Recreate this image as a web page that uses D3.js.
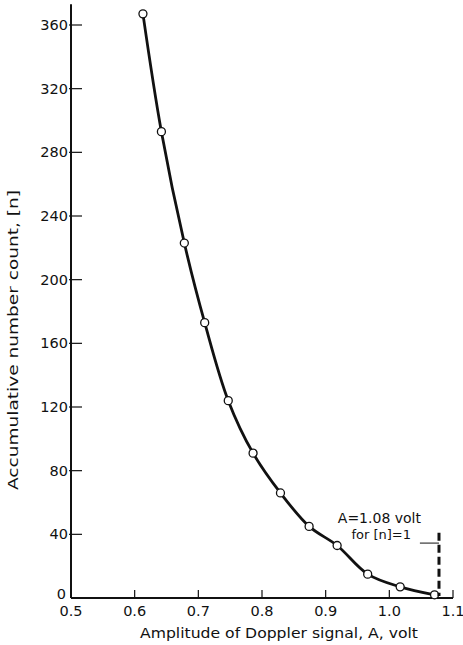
<!DOCTYPE html>
<html>
<head>
<meta charset="utf-8">
<script src="https://cdn.jsdelivr.net/npm/d3@7"></script>
<style>
  body { margin: 0; background: #fff; }
  svg text { font-family: "DejaVu Sans", sans-serif; fill: #111; }
</style>
</head>
<body>
<div id="chart"></div>
<script>
// Data
const amplitude = [0.613, 0.642, 0.678, 0.710, 0.747, 0.786, 0.829, 0.874, 0.918, 0.966, 1.017, 1.071];
const count     = [367, 293, 223, 173, 124, 91, 66, 45, 33, 15, 7, 2];
const xTicks = [0.5, 0.6, 0.7, 0.8, 0.9, 1.0, 1.1];
const xTickLabels = ['0.5', '0.6', '0.7', '0.8', '0.9', '1.0', '1.1'];
const yTicks = [0, 40, 80, 120, 160, 200, 240, 280, 320, 360];
// annotation: A at [n]=1
const markA = [1.078];
const markTop = [41];
const leaderFrom = [1.048];
const leaderAt = [34.5];

const width = 463, height = 645;

const svg = d3.select('#chart')
    .append('svg')
    .attr('width', width)
    .attr('height', height);

const x = d3.scaleLinear().domain([0.5, 1.1]).range([71, 453]);
const y = d3.scaleLinear().domain([0, 360]).range([598, 25]);

// Axes lines
svg.append('line')
    .attr('x1', x(0.5)).attr('x2', x(0.5))
    .attr('y1', y(0)).attr('y2', y(373))
    .attr('stroke', '#111').attr('stroke-width', 2);

svg.append('line')
    .attr('x1', x(0.5)).attr('x2', x(1.1))
    .attr('y1', y(0)).attr('y2', y(0))
    .attr('stroke', '#111').attr('stroke-width', 2);

// Y ticks
const yAxis = svg.append('g');
yAxis.selectAll('line')
    .data(yTicks.filter(d => d > 0))
    .join('line')
    .attr('x1', x(0.5) - 2).attr('x2', x(0.5) + 11)
    .attr('y1', d => y(d)).attr('y2', d => y(d))
    .attr('stroke', '#111').attr('stroke-width', 1.2);

yAxis.selectAll('text')
    .data(yTicks)
    .join('text')
    .attr('x', d => d === 0 ? x(0.5) - 5 : x(0.5) - 3)
    .attr('y', d => d === 0 ? y(d) + 1 : y(d) + 5)
    .attr('text-anchor', 'end')
    .attr('font-size', 14.5)
    .text(d => d);

// X ticks
const xAxis = svg.append('g');
xAxis.selectAll('line')
    .data(xTicks.slice(1))
    .join('line')
    .attr('x1', d => x(d)).attr('x2', d => x(d))
    .attr('y1', y(0)).attr('y2', y(0) - 8)
    .attr('stroke', '#111').attr('stroke-width', 1.2);

xAxis.selectAll('text')
    .data(xTicks)
    .join('text')
    .attr('x', d => x(d))
    .attr('y', y(0) + 18)
    .attr('text-anchor', 'middle')
    .attr('font-size', 14.5)
    .text((d, i) => xTickLabels[i]);

// Axis titles
svg.append('text')
    .attr('x', 279)
    .attr('y', 638)
    .attr('text-anchor', 'middle')
    .attr('font-size', 14)
    .attr('textLength', 278)
    .attr('lengthAdjust', 'spacingAndGlyphs')
    .text('Amplitude of Doppler signal, A, volt');

svg.append('text')
    .attr('transform', 'translate(18, 340) rotate(-90)')
    .attr('text-anchor', 'middle')
    .attr('font-size', 14)
    .attr('textLength', 300)
    .attr('lengthAdjust', 'spacingAndGlyphs')
    .text('Accumulative number count, [n]');

// Curve
const pts = amplitude.map((a, i) => [a, count[i]]);
const line = d3.line()
    .x(d => x(d[0]))
    .y(d => y(d[1]))
    .curve(d3.curveCatmullRom.alpha(0.5));

svg.append('path')
    .datum(pts)
    .attr('d', line)
    .attr('fill', 'none')
    .attr('stroke', '#111')
    .attr('stroke-width', 2.8);

svg.append('g').selectAll('circle')
    .data(pts)
    .join('circle')
    .attr('cx', d => x(d[0]))
    .attr('cy', d => y(d[1]))
    .attr('r', 4)
    .attr('fill', '#fff')
    .attr('stroke', '#111')
    .attr('stroke-width', 1.3);

// Annotation
svg.append('line')
    .attr('x1', x(markA[0])).attr('x2', x(markA[0]))
    .attr('y1', y(markTop[0])).attr('y2', y(0) - 2)
    .attr('stroke', '#111').attr('stroke-width', 3)
    .attr('stroke-dasharray', '8,4');

svg.append('line')
    .attr('x1', x(leaderFrom[0])).attr('x2', x(markA[0]))
    .attr('y1', y(leaderAt[0])).attr('y2', y(leaderAt[0]))
    .attr('stroke', '#111').attr('stroke-width', 1);

svg.append('text')
    .attr('x', x(markA[0]) - 18)
    .attr('y', 523)
    .attr('text-anchor', 'end')
    .attr('font-size', 14)
    .text('A=1.08 volt');

svg.append('text')
    .attr('x', x(markA[0]) - 28)
    .attr('y', 539)
    .attr('text-anchor', 'end')
    .attr('font-size', 13)
    .text('for [n]=1');
</script>
</body>
</html>
